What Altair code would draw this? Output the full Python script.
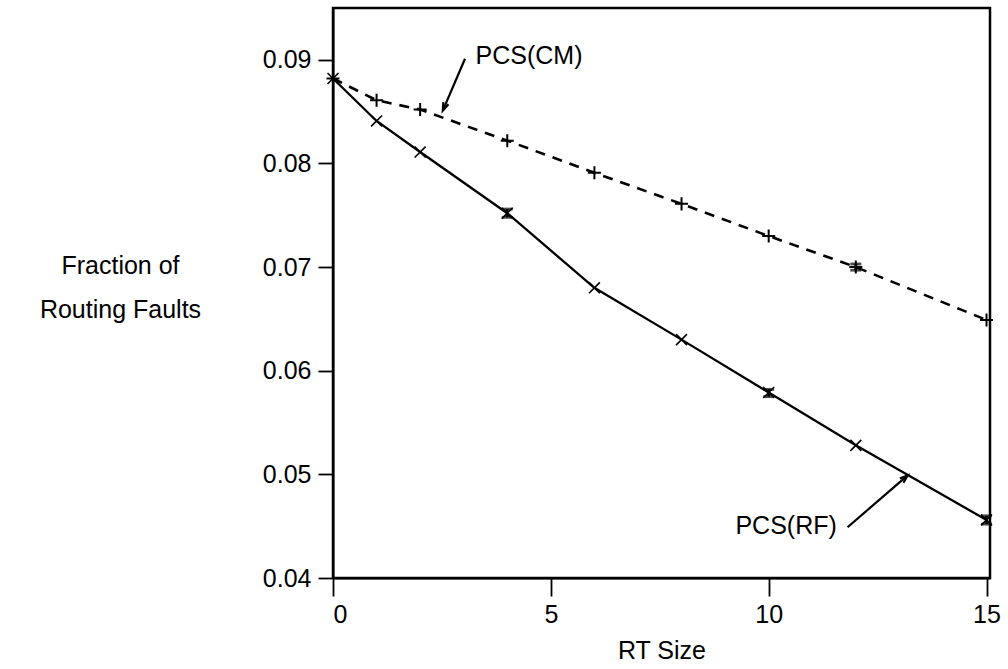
import altair as alt
import pandas as pd

# ---- data ----
rt_size = [0, 1, 2, 4, 6, 8, 10, 12, 15]
rf_values = [0.0882, 0.0841, 0.0811, 0.0752, 0.0680, 0.0630, 0.0579, 0.0528, 0.0456]
cm_values = [0.0882, 0.0861, 0.0852, 0.0822, 0.0791, 0.0761, 0.0730, 0.0700, 0.0649]

err_x = [4, 10, 15, 12]
err_lo = [0.0748, 0.0575, 0.0452, 0.0697]
err_hi = [0.0756, 0.0582, 0.0460, 0.0703]

label_text = ["PCS(CM)", "PCS(RF)"]
label_x = [4.5, 10.4]
label_y = [0.0904, 0.0450]

arrow_x = [3.03, 11.81]
arrow_y = [0.0901, 0.0449]
arrow_x2 = [2.52, 13.19]
arrow_y2 = [0.0851, 0.0499]
arrow_angle = [203, 49]

x_ticks = [0, 5, 10, 15]
y_ticks = [0.04, 0.05, 0.06, 0.07, 0.08, 0.09]

FONT = "Liberation Sans"
FS = 25

rf = pd.DataFrame({"x": rt_size, "y": rf_values})
cm = pd.DataFrame({"x": rt_size, "y": cm_values})
err = pd.DataFrame({"x": err_x, "lo": err_lo, "hi": err_hi})
labels = pd.DataFrame({"t": label_text, "x": label_x, "y": label_y})
arrows = pd.DataFrame({"x": arrow_x, "y": arrow_y, "x2": arrow_x2, "y2": arrow_y2, "angle": arrow_angle})

xscale = alt.Scale(domain=[0, 15.08], nice=False, zero=False)
yscale = alt.Scale(domain=[0.04, 0.095], nice=False, zero=False)

xaxis = alt.Axis(values=x_ticks, tickSize=18, tickWidth=1.8, labelPadding=6,
                 titleY=72, titleBaseline="middle", title="RT Size")
yaxis = alt.Axis(values=y_ticks, format=".2f", tickSize=15, tickWidth=1.8, labelPadding=7,
                 title=["Fraction of", "Routing Faults"], titleAngle=0, titleAlign="center",
                 titleBaseline="top", titleX=-213, titleY=245, titleLineHeight=44)


def X(field="x"):
    return alt.X(f"{field}:Q", scale=xscale, axis=xaxis, title="RT Size")


def Y(field="y"):
    return alt.Y(f"{field}:Q", scale=yscale, axis=yaxis, title=["Fraction of", "Routing Faults"])


rf_line = alt.Chart(rf).mark_line(color="black", strokeWidth=2.3).encode(x=X(), y=Y())
cm_line = alt.Chart(cm).mark_line(color="black", strokeWidth=2.6, strokeDash=[10, 8]).encode(x=X(), y=Y())

rf_pts = alt.Chart(rf).mark_point(
    shape="M-1,-1L1,1M-1,1L1,-1", size=120, filled=False, color="black", strokeWidth=1.6, opacity=1
).encode(x=X(), y=Y())
cm_pts = alt.Chart(cm).mark_point(
    shape="M-1,0L1,0M0,-1L0,1", size=170, filled=False, color="black", strokeWidth=2, opacity=1
).encode(x=X(), y=Y())

err_rule = alt.Chart(err).mark_rule(color="black", strokeWidth=2.8).encode(
    x=X(), y=Y("lo"), y2=alt.Y2("hi:Q"))
err_caps = alt.Chart(err).transform_fold(["lo", "hi"], as_=["k", "v"]).mark_tick(
    color="black", orient="horizontal", size=11, thickness=2.8
).encode(x=X(), y=Y("v"))

text = alt.Chart(labels).mark_text(font=FONT, fontSize=FS, color="black",
                                   align="center", baseline="middle").encode(
    x=X(), y=Y(), text="t:N")

arrow_shaft = alt.Chart(arrows).mark_rule(color="black", strokeWidth=2.2).encode(
    x=X(), y=Y(), x2=alt.X2("x2:Q"), y2=alt.Y2("y2:Q"))
arrow_head = alt.Chart(arrows).mark_point(
    shape="M-0.45,1.3L0,0L0.45,1.3", size=150, filled=False, color="black", strokeWidth=2.2, opacity=1
).encode(x=X("x2"), y=Y("y2"), angle=alt.Angle("angle:Q", scale=None))

chart = alt.layer(
    cm_line, rf_line, cm_pts, rf_pts, err_rule, err_caps, arrow_shaft, arrow_head, text
).properties(
    width=657, height=570,
    autosize=alt.AutoSizeParams(type="none"),
    padding={"left": 333, "top": 8, "right": 18, "bottom": 91},
    background="white",
).configure_view(
    stroke="black", strokeWidth=2.5
).configure_axis(
    domainColor="black", domainWidth=2, tickColor="black", labelColor="black",
    titleColor="black", labelFont=FONT, labelFontSize=FS, titleFont=FONT,
    titleFontSize=FS, titleFontWeight="normal", grid=False
)

chart.save("out.html", embed_options={"renderer": "svg", "actions": False})
